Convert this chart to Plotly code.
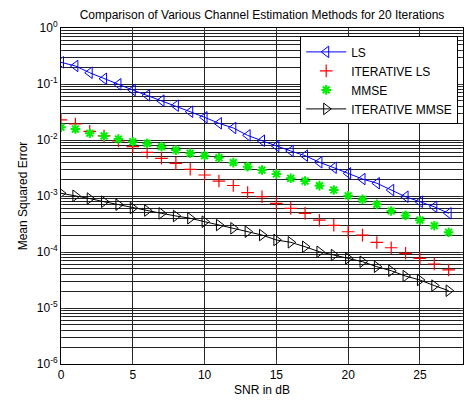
import plotly.graph_objects as go

snr = list(range(28))

ls = [0.244, 0.210, 0.159, 0.124, 0.0988, 0.078, 0.0628, 0.0504, 0.041, 0.032,
      0.0254, 0.0199, 0.0164, 0.0121, 0.0097, 0.00781, 0.00637, 0.00525, 0.0040, 0.0032,
      0.00254, 0.00201, 0.00169, 0.00128, 0.00097, 0.00079, 0.00064, 0.00049]

iter_ls = [0.0228, 0.0193, 0.0143, 0.0118, 0.0096, 0.0076, 0.0060, 0.00471, 0.00383, 0.0030,
           0.00237, 0.00185, 0.00154, 0.00115, 0.00097, 0.00074, 0.00060, 0.00049, 0.00037, 0.00030,
           0.00023, 0.00020, 0.000148, 0.000119, 0.0000948, 0.0000772, 0.0000610, 0.0000478]

mmse = [0.0169, 0.0157, 0.0132, 0.0118, 0.0104, 0.0093, 0.0087, 0.0076, 0.0066, 0.00579,
        0.00525, 0.00483, 0.00394, 0.00334, 0.00291, 0.00247, 0.00207, 0.00185, 0.00153, 0.00128,
        0.00101, 0.00087, 0.00071, 0.00054, 0.00045, 0.00037, 0.000295, 0.000225]

iter_mmse = [0.00112, 0.00101, 0.00090, 0.00079, 0.00070, 0.00061, 0.00055, 0.00049, 0.00044, 0.00040,
             0.000348, 0.000303, 0.000265, 0.000231, 0.000201, 0.000164, 0.000149, 0.000124, 0.000101, 0.0000883,
             0.0000772, 0.0000671, 0.0000546, 0.0000463, 0.0000372, 0.0000316, 0.0000251, 0.0000204]

x_ticks = [0, 5, 10, 15, 20, 25]
y_tickvals = [1e-6, 1e-5, 1e-4, 1e-3, 1e-2, 1e-1, 1]
y_ticktext = ["10<sup>-6</sup>", "10<sup>-5</sup>", "10<sup>-4</sup>", "10<sup>-3</sup>",
              "10<sup>-2</sup>", "10<sup>-1</sup>", "10<sup>0</sup>"]

FONT = "Liberation Sans, Arial, sans-serif"

fig = go.Figure()
fig.add_trace(go.Scatter(x=snr, y=ls, name="LS", mode="lines+markers",
                         line=dict(color="#0000ff", width=1),
                         marker=dict(symbol="triangle-left-open", size=10, color="#0000ff",
                                     line=dict(width=1, color="#0000ff"))))
fig.add_trace(go.Scatter(x=snr, y=iter_ls, name="ITERATIVE LS", mode="markers",
                         marker=dict(symbol="cross-thin-open", size=9, color="#ff0000",
                                     line=dict(width=1.2, color="#ff0000"))))
fig.add_trace(go.Scatter(x=snr, y=mmse, name="MMSE", mode="markers",
                         marker=dict(symbol="asterisk-open", size=8, color="#00ee00",
                                     line=dict(width=2, color="#00ee00"))))
fig.add_trace(go.Scatter(x=snr, y=iter_mmse, name="ITERATIVE MMSE", mode="lines+markers",
                         line=dict(color="#000000", width=1),
                         marker=dict(symbol="triangle-right-open", size=10, color="#000000",
                                     line=dict(width=1, color="#000000"))))

fig.update_layout(
    width=465, height=403,
    margin=dict(l=61, r=2, t=28, b=39),
    paper_bgcolor="white", plot_bgcolor="white",
    font=dict(family=FONT, size=12, color="black"),
    title=dict(text="Comparison of Various Channel Estimation Methods for 20 Iterations",
               x=0.5, xanchor="center", xref="paper", y=1, yref="container", yanchor="top",
               pad=dict(t=11), font=dict(size=12, family=FONT, color="black")),
    showlegend=True,
    legend=dict(x=0.595, y=0.975, xanchor="left", yanchor="top",
                bgcolor="white", bordercolor="black", borderwidth=1,
                font=dict(size=12, family=FONT, color="black"),
                tracegroupgap=0, itemwidth=40),
)
fig.update_xaxes(range=[0, 28], tickvals=x_ticks, ticks="inside", ticklen=4,
                 showline=True, linecolor="black", linewidth=1, mirror="ticks",
                 showgrid=True, gridcolor="#222222", gridwidth=1, zeroline=False,
                 title=dict(text="SNR in dB", standoff=4, font=dict(size=12)),
                 tickfont=dict(size=12))
fig.update_yaxes(type="log", range=[-6, 0], tickvals=y_tickvals, ticktext=y_ticktext,
                 ticks="inside", ticklen=4,
                 showline=True, linecolor="black", linewidth=1, mirror="ticks",
                 showgrid=True, gridcolor="#222222", gridwidth=1, zeroline=False,
                 minor=dict(dtick="D1", showgrid=True, gridcolor="#222222", gridwidth=1,
                            ticks="inside", ticklen=2),
                 title=dict(text="Mean Squared Error", standoff=6, font=dict(size=12)),
                 tickfont=dict(size=12))

fig.write_html("out.html")
